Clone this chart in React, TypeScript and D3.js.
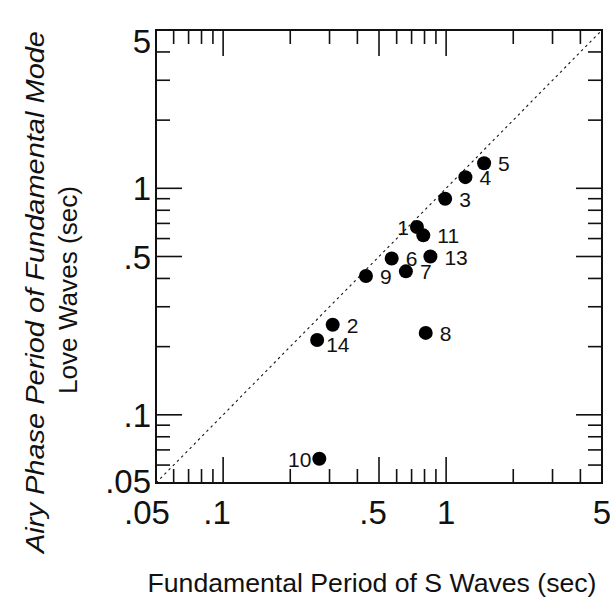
import React from "react";
import * as d3 from "d3";

const pointIds = ["1", "2", "3", "4", "5", "6", "7", "8", "9", "10", "11", "13", "14"];
const sWavePeriod = [0.74, 0.31, 0.99, 1.22, 1.48, 0.57, 0.66, 0.81, 0.437, 0.27, 0.79, 0.85, 0.264];
const airyPeriod = [0.675, 0.25, 0.9, 1.12, 1.29, 0.49, 0.43, 0.23, 0.41, 0.064, 0.62, 0.5, 0.214];
const labelSide = ["left", "right", "right", "right", "right", "right", "right", "right", "right", "left", "right", "right", "belowRight"];

const tickValues = [0.06, 0.07, 0.08, 0.09, 0.1, 0.2, 0.3, 0.4, 0.5, 0.6, 0.7, 0.8, 0.9, 1, 2, 3, 4];
const majorTicks = [0.1, 0.5, 1];
const axisLabelValues = [0.05, 0.1, 0.5, 1, 5];
const axisLabelTexts = [".05", ".1", ".5", "1", "5"];

const xTitle = "Fundamental Period of S Waves (sec)";
const yTitle1 = "Airy Phase Period of Fundamental Mode";
const yTitle2 = "Love Waves (sec)";

const W = 610;
const H = 606;
const L = 156, R = 602, T = 30, B = 483;
const FONT = "'Liberation Sans', Arial, Helvetica, sans-serif";

export default function App() {
  const x = d3.scaleLog().domain([0.05, 5]).range([L, R]);
  const y = d3.scaleLog().domain([0.05, 5]).range([B, T]);
  const longT = 26, shortT = 14;
  const len = (v: number) => (majorTicks.includes(v) ? longT : shortT);

  const data = pointIds.map((id, i) => ({ id, x: sWavePeriod[i], y: airyPeriod[i], side: labelSide[i] }));

  return (
    <svg width={W} height={H} style={{ position: "absolute", left: 0, top: 0, background: "#fff" }} fontFamily={FONT}>
      <rect x={0} y={0} width={W} height={H} fill="#fff" />
      <defs>
        <clipPath id="plotclip">
          <rect x={L} y={T} width={R - L} height={B - T} />
        </clipPath>
      </defs>
      {/* 1:1 dashed line */}
      <line
        x1={x(0.05)} y1={y(0.05)} x2={x(5)} y2={y(5)}
        stroke="#111" strokeWidth={1.1} strokeDasharray="2.5,3.5" clipPath="url(#plotclip)"
      />
      {/* ticks */}
      {tickValues.map((v) => (
        <g key={"t" + v} stroke="#111" strokeWidth={1.6}>
          <line x1={x(v)} x2={x(v)} y1={B} y2={B - len(v)} />
          <line x1={x(v)} x2={x(v)} y1={T} y2={T + len(v)} />
          <line y1={y(v)} y2={y(v)} x1={L} x2={L + len(v)} />
          <line y1={y(v)} y2={y(v)} x1={R} x2={R - len(v)} />
        </g>
      ))}
      {/* frame */}
      <rect x={L} y={T} width={R - L} height={B - T} fill="none" stroke="#111" strokeWidth={2} />
      {/* x tick labels */}
      {axisLabelValues.map((v, i) => (
        <text
          key={"xl" + v}
          x={x(v) + (v === 0.05 ? -9 : axisLabelTexts[i].startsWith(".") ? -6 : 0)}
          y={524}
          fontSize={33}
          textAnchor="middle"
          fill="#111"
        >
          {axisLabelTexts[i]}
        </text>
      ))}
      {/* y tick labels */}
      {axisLabelValues.map((v, i) => {
        let yy = y(v) + 12;
        if (v === 5) yy = y(v) + 23;
        if (v === 0.05) yy = 493;
        return (
          <text key={"yl" + v} x={151} y={yy} fontSize={33} textAnchor="end" fill="#111">
            {axisLabelTexts[i]}
          </text>
        );
      })}
      {/* points */}
      {data.map((d) => (
        <circle key={"c" + d.id} cx={x(d.x)} cy={y(d.y)} r={7} fill="#000" />
      ))}
      {data.map((d) => {
        const cx = x(d.x), cy = y(d.y);
        let tx = cx + 14, ty = cy + 8, anchor = "start";
        if (d.side === "left") { tx = cx - 8; anchor = "end"; }
        if (d.side === "belowRight") { tx = cx + 9; ty = cy + 12; }
        return (
          <text key={"l" + d.id} x={tx} y={ty} fontSize={21} textAnchor={anchor} fill="#111">
            {d.id}
          </text>
        );
      })}
      {/* axis titles */}
      <text x={372} y={592} fontSize={25} textAnchor="middle" fill="#111" textLength={449} lengthAdjust="spacingAndGlyphs">
        {xTitle}
      </text>
      <text
        transform={`translate(44,292) rotate(-90)`}
        fontSize={26}
        fontStyle="italic"
        textAnchor="middle"
        fill="#111"
        textLength={522}
        lengthAdjust="spacingAndGlyphs"
      >
        {yTitle1}
      </text>
      <text
        transform={`translate(77,290) rotate(-90)`}
        fontSize={25}
        textAnchor="middle"
        fill="#111"
        textLength={208}
        lengthAdjust="spacingAndGlyphs"
      >
        {yTitle2}
      </text>
    </svg>
  );
}
